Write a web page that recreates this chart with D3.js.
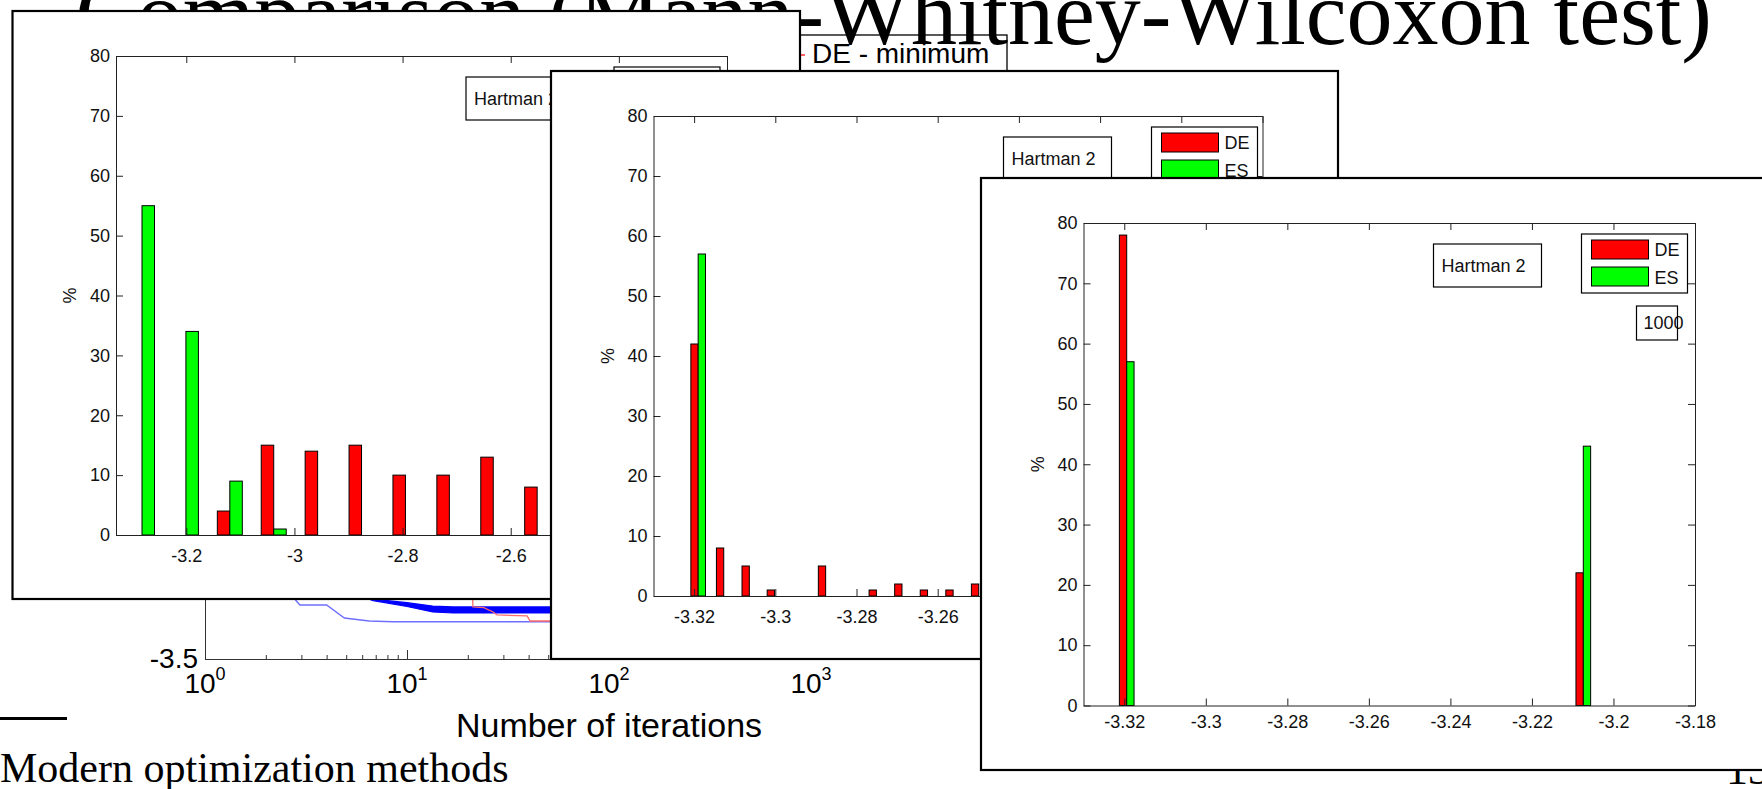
<!DOCTYPE html>
<html><head><meta charset="utf-8">
<script src="https://d3js.org/d3.v7.min.js"></script>
<style>html,body{margin:0;padding:0;background:#fff;overflow:hidden}svg{display:block}</style>
</head><body>
<svg id="chart" width="1762" height="789"></svg>
<script>
// ---------------- DATA ----------------
const titleText = "Comparison (Mann-Whitney-Wilcoxon test)";
const footerText = "Modern optimization methods";
const pageNumber = "13";

// background convergence plot (objective value vs number of iterations, log x)
const convXTicks = [1, 10, 100, 1000];
const convXTickExp = ["0", "1", "2", "3"];
const convYTicks = [-3.5];
const convXLabel = "Number of iterations";
const convLegendLabel = "DE - minimum";
const convBestIter = [1, 2.7, 2.95, 4.0, 4.9, 6.5, 8.5, 10000];
const convBestVal  = [-2.95, -3.20, -3.243, -3.243, -3.305, -3.319, -3.3224, -3.3224];
const convBandIter  = [5.0, 6.8, 10, 13.4, 16.9, 10000];
const convBandUpper = [-3.17, -3.215, -3.232, -3.248, -3.252, -3.252];
const convBandLower = [-3.175, -3.222, -3.25, -3.276, -3.281, -3.281];
const convRedIter = [21.0, 21.2, 24, 26.7, 27.9, 39.3, 40.7, 10000];
const convRedVal  = [-3.10, -3.252, -3.255, -3.276, -3.290, -3.295, -3.319, -3.319];

// histograms (percentage of runs per final objective value)
const histYTicks = [0, 10, 20, 30, 40, 50, 60, 70, 80];
const seriesNames = ["DE", "ES"];
const functionName = "Hartman 2";

const h1Centers = [-3.2819, -3.2007, -3.1195, -3.0383, -2.9571, -2.8759, -2.7947, -2.7135, -2.6323, -2.5511];
const h1DE = [0, 0, 4, 15, 14, 15, 10, 10, 13, 8];
const h1ES = [55, 34, 9, 1, 0, 0, 0, 0, 0, 0];
const h1XTicks = [-3.2, -3, -2.8, -2.6, -2.4, -2.2];

const h2Centers = [-3.3190, -3.3127, -3.3064, -3.3002, -3.2939, -3.2876, -3.2813, -3.2751, -3.2688, -3.2625, -3.2562, -3.2499];
const h2DE = [42, 8, 5, 1, 0, 5, 0, 1, 2, 1, 1, 2];
const h2ES = [57, 0, 0, 0, 0, 0, 0, 0, 0, 0, 0, 0];
const h2XTicks = [-3.32, -3.3, -3.28, -3.26, -3.24, -3.22, -3.2, -3.18];

const h3Centers = [-3.3194, -3.2074];
const h3DE = [78, 22];
const h3ES = [57, 43];
const h3XTicks = [-3.32, -3.3, -3.28, -3.26, -3.24, -3.22, -3.2, -3.18];
const h3IterLabel = "1000";

// ---------------- DRAWING ----------------
const SANS = "'Liberation Sans', Arial, Helvetica, sans-serif";
const SERIF = "'Liberation Serif', 'Times New Roman', serif";
const svg = d3.select("#chart");
svg.append("rect").attr("width", 1762).attr("height", 789).attr("fill", "#fff");

// ---- background convergence plot ----
const cg = svg.append("g");
const cx = d3.scaleLog().domain([1, 10000]).range([205, 1013]);
const cy = d3.scaleLinear().domain([-3.5, -0.5]).range([659, 29]);

const band = d3.area().x(d => cx(d.i)).y0(d => cy(d.lo)).y1(d => cy(d.up));
cg.append("path")
  .datum(convBandIter.map((i, k) => ({ i, up: convBandUpper[k], lo: convBandLower[k] })))
  .attr("d", band).attr("fill", "#0000ff").attr("stroke", "#0000ff").attr("stroke-width", 1.2);
const line = d3.line().x(d => cx(d[0])).y(d => cy(d[1]));
cg.append("path").datum(convBestIter.map((i, k) => [i, convBestVal[k]]))
  .attr("d", line).attr("fill", "none").attr("stroke", "#6f6fff").attr("stroke-width", 1.4);
cg.append("path").datum(convRedIter.map((i, k) => [i, convRedVal[k]]))
  .attr("d", line).attr("fill", "none").attr("stroke", "#ff6a6a").attr("stroke-width", 1.3);

cg.append("g").attr("transform", "translate(0,659)")
  .call(d3.axisBottom(cx).tickValues(cx.ticks()).tickSizeInner(-4).tickSizeOuter(0).tickFormat(""))
  .attr("color", "#333");
cg.append("g").attr("transform", "translate(0,659)")
  .call(d3.axisBottom(cx).tickValues(convXTicks).tickSizeInner(-9).tickSizeOuter(0).tickFormat(""))
  .attr("color", "#333").select(".domain").remove();
cg.append("g").attr("transform", "translate(205,0)")
  .call(d3.axisLeft(cy).tickValues(convYTicks).tickSizeInner(-7).tickSizeOuter(0).tickPadding(7).tickFormat(d => String(d)))
  .attr("color", "#333").attr("font-family", SANS).attr("font-size", 28)
  .selectAll("text").attr("fill", "#000");

const xl = cg.append("g").attr("font-family", SANS).attr("fill", "#000");
convXTicks.forEach((v, k) => {
  const t = xl.append("text").attr("x", cx(v)).attr("y", 693).attr("text-anchor", "middle").attr("font-size", 28);
  t.append("tspan").text("10");
  t.append("tspan").attr("font-size", 18).attr("dy", -13).text(convXTickExp[k]);
});
cg.append("text").attr("x", 609).attr("y", 737).attr("text-anchor", "middle")
  .attr("font-family", SANS).attr("font-size", 34).text(convXLabel);

// legend of convergence plot
cg.append("rect").attr("x", 700).attr("y", 35).attr("width", 307).attr("height", 80)
  .attr("fill", "#fff").attr("stroke", "#000").attr("stroke-width", 1.3);
cg.append("line").attr("x1", 745).attr("x2", 805).attr("y1", 55).attr("y2", 55)
  .attr("stroke", "#ff3030").attr("stroke-width", 1.5);
cg.append("text").attr("x", 812).attr("y", 63).attr("font-family", SANS).attr("font-size", 28).text(convLegendLabel);

// ---- slide texts ----
svg.append("text").attr("x", 1712).attr("y", 44).attr("text-anchor", "end")
  .attr("font-family", SERIF).attr("font-size", 92).text(titleText);
svg.append("rect").attr("x", 0).attr("y", 717).attr("width", 67).attr("height", 3).attr("fill", "#000");
svg.append("text").attr("x", 0).attr("y", 782).attr("font-family", SERIF).attr("font-size", 42).text(footerText);
svg.append("text").attr("x", 1770).attr("y", 784).attr("text-anchor", "end")
  .attr("font-family", SERIF).attr("font-size", 44).text(pageNumber);

// ---- histogram windows ----
const windows = [
  { win: [12.5, 11, 787.5, 588], plot: [116, 56, 611, 479], domain: [-3.33, -2.2], pad: 14,
    centers: h1Centers, de: h1DE, es: h1ES, barW: 0.0231, ticks: h1XTicks },
  { win: [551, 71, 787, 588], plot: [653.5, 116, 609, 480], domain: [-3.33, -3.18], pad: 14,
    centers: h2Centers, de: h2DE, es: h2ES, barW: 0.0018, ticks: h2XTicks },
  { win: [981, 178, 790, 592], plot: [1083.5, 223, 611.5, 482.5], domain: [-3.33, -3.18], pad: 10,
    centers: h3Centers, de: h3DE, es: h3ES, barW: 0.0018, ticks: h3XTicks, iter: h3IterLabel }
];

function styleAxis(sel) {
  sel.attr("font-family", SANS).attr("font-size", 18).attr("color", "#222");
  sel.selectAll("text").attr("fill", "#111");
}

windows.forEach(o => {
  const g = svg.append("g");
  const [wx, wy, ww, wh] = o.win;
  g.append("rect").attr("x", wx).attr("y", wy).attr("width", ww).attr("height", wh)
    .attr("fill", "#fff").attr("stroke", "#000").attr("stroke-width", 2.2);
  const [px, py, pw, ph] = o.plot;
  const x = d3.scaleLinear().domain(o.domain).range([px, px + pw]);
  const y = d3.scaleLinear().domain([0, 80]).range([py + ph, py]);
  const rows = o.centers.map((c, k) => ({ c, de: o.de[k], es: o.es[k] }));

  g.selectAll(null).data(rows.filter(r => r.de > 0)).join("rect")
    .attr("x", r => x(r.c - o.barW)).attr("width", r => x(r.c) - x(r.c - o.barW))
    .attr("y", r => y(r.de)).attr("height", r => y(0) - y(r.de))
    .attr("fill", "#ff0000").attr("stroke", "#000").attr("stroke-width", 1);
  g.selectAll(null).data(rows.filter(r => r.es > 0)).join("rect")
    .attr("x", r => x(r.c)).attr("width", r => x(r.c + o.barW) - x(r.c))
    .attr("y", r => y(r.es)).attr("height", r => y(0) - y(r.es))
    .attr("fill", "#00ff00").attr("stroke", "#000").attr("stroke-width", 1);

  g.append("g").attr("transform", `translate(0,${py + ph})`)
    .call(d3.axisBottom(x).tickValues(o.ticks).tickSizeInner(-7).tickSizeOuter(0).tickPadding(o.pad).tickFormat(d => String(d)))
    .call(styleAxis);
  g.append("g").attr("transform", `translate(0,${py})`)
    .call(d3.axisTop(x).tickValues(o.ticks).tickSizeInner(-7).tickSizeOuter(0).tickFormat(""))
    .call(styleAxis);
  g.append("g").attr("transform", `translate(${px},0)`)
    .call(d3.axisLeft(y).tickValues(histYTicks).tickSizeInner(-7).tickSizeOuter(0).tickPadding(6).tickFormat(d => String(d)))
    .call(styleAxis);
  g.append("g").attr("transform", `translate(${px + pw},0)`)
    .call(d3.axisRight(y).tickValues(histYTicks).tickSizeInner(-7).tickSizeOuter(0).tickFormat(""))
    .call(styleAxis);

  g.append("text").attr("transform", `translate(${px - 46},${py + ph / 2}) rotate(-90)`)
    .attr("text-anchor", "middle").attr("dy", "0.35em")
    .attr("font-family", SANS).attr("font-size", 18).attr("fill", "#111").text("%");

  // function name box
  g.append("rect").attr("x", px + 350).attr("y", py + 21).attr("width", 108).attr("height", 43)
    .attr("fill", "#fff").attr("stroke", "#000").attr("stroke-width", 1.2);
  g.append("text").attr("x", px + 358).attr("y", py + 48.5)
    .attr("font-family", SANS).attr("font-size", 18).attr("fill", "#111").text(functionName);

  // legend
  g.append("rect").attr("x", px + 498).attr("y", py + 11).attr("width", 106).attr("height", 59)
    .attr("fill", "#fff").attr("stroke", "#000").attr("stroke-width", 1.2);
  const colors = ["#ff0000", "#00ff00"];
  seriesNames.forEach((s, k) => {
    g.append("rect").attr("x", px + 508).attr("y", py + 17 + k * 27).attr("width", 57).attr("height", 19)
      .attr("fill", colors[k]).attr("stroke", "#000").attr("stroke-width", 1);
    g.append("text").attr("x", px + 571).attr("y", py + 32.5 + k * 28)
      .attr("font-family", SANS).attr("font-size", 18).attr("fill", "#111").text(s);
  });

  if (o.iter) {
    g.append("text").attr("x", px + 560).attr("y", py + 106)
      .attr("font-family", SANS).attr("font-size", 18).attr("fill", "#111").text(o.iter);
    g.append("rect").attr("x", px + 553).attr("y", py + 83).attr("width", 41).attr("height", 34)
      .attr("fill", "none").attr("stroke", "#000").attr("stroke-width", 1.2);
  }
});
</script>
</body></html>
